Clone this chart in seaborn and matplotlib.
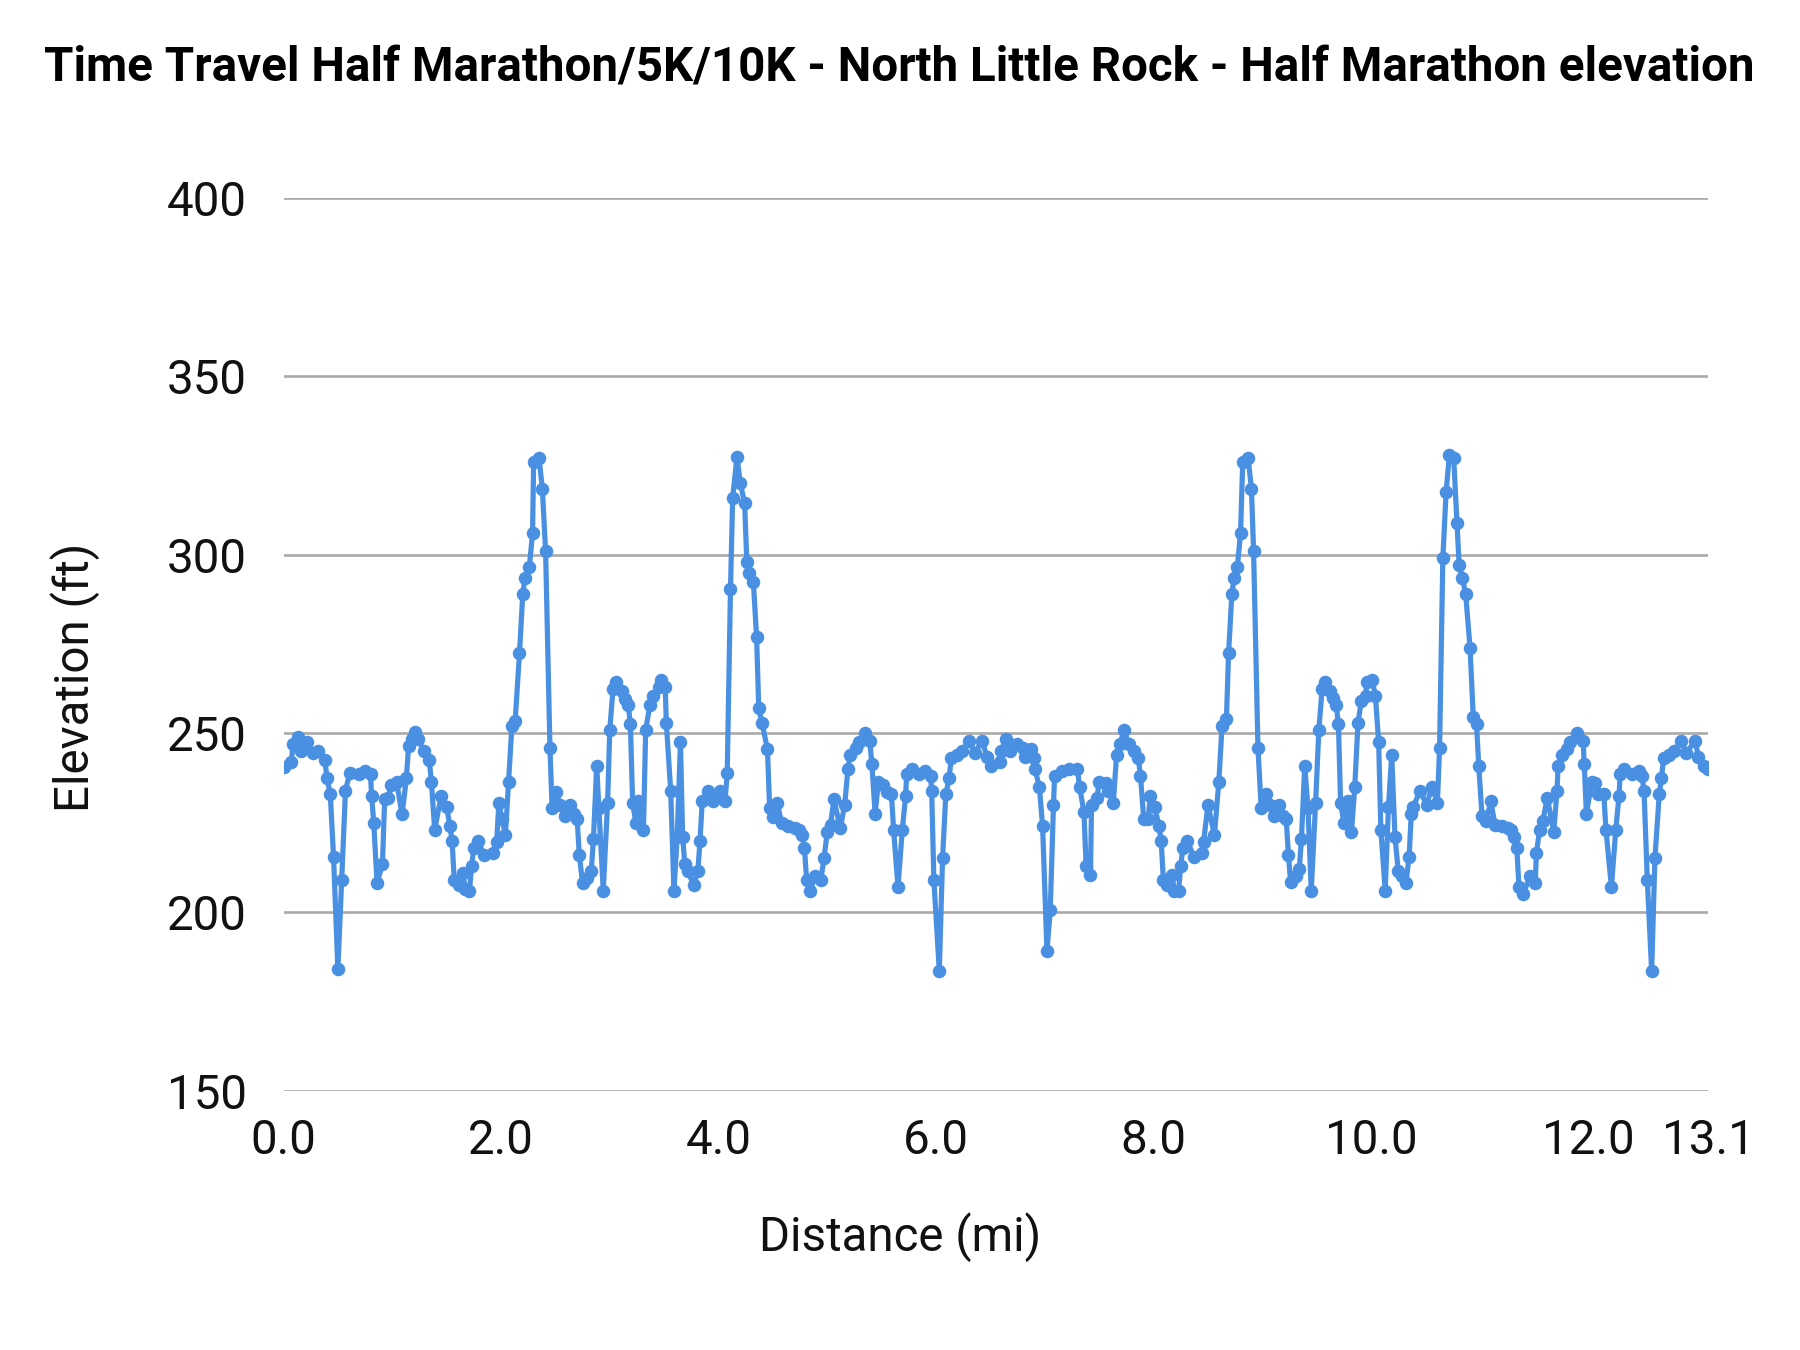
import matplotlib
matplotlib.use("Agg")
import matplotlib.pyplot as plt
import seaborn as sns
import pandas as pd
from matplotlib.ticker import FixedLocator, FixedFormatter

distance_mi = [
    0.00, 0.07, 0.09, 0.13, 0.16, 0.22, 0.27, 0.32, 0.38, 0.40, 0.43, 0.46, 0.50, 0.535, 0.57, 0.61,
    0.69, 0.75, 0.80, 0.81, 0.83, 0.86, 0.91, 0.93, 0.96, 0.99, 1.04, 1.09, 1.13, 1.15, 1.18, 1.21,
    1.24, 1.29, 1.34, 1.36, 1.39, 1.45, 1.50, 1.53, 1.55, 1.57, 1.61, 1.65, 1.67, 1.71, 1.73, 1.75,
    1.79, 1.84, 1.93, 1.96, 1.98, 2.01, 2.04, 2.07, 2.10, 2.13, 2.17, 2.20, 2.22, 2.26, 2.29, 2.30,
    2.35, 2.38, 2.41, 2.45, 2.47, 2.51, 2.54, 2.59, 2.63, 2.67, 2.70, 2.72, 2.75, 2.79, 2.83, 2.85,
    2.88, 2.90, 2.94, 2.98, 3.00, 3.03, 3.06, 3.11, 3.14, 3.17, 3.19, 3.21, 3.24, 3.26, 3.31, 3.33,
    3.37, 3.40, 3.45, 3.47, 3.51, 3.52, 3.56, 3.59, 3.62, 3.65, 3.67, 3.69, 3.72, 3.77, 3.81, 3.83,
    3.85, 3.90, 3.95, 4.01, 4.06, 4.08, 4.11, 4.13, 4.17, 4.20, 4.24, 4.26, 4.28, 4.32, 4.35, 4.37,
    4.40, 4.45, 4.47, 4.50, 4.54, 4.58, 4.64, 4.70, 4.74, 4.77, 4.79, 4.81, 4.84, 4.89, 4.94, 4.97,
    5.00, 5.03, 5.06, 5.12, 5.16, 5.19, 5.21, 5.26, 5.29, 5.35, 5.39, 5.41, 5.44, 5.47, 5.51, 5.55,
    5.59, 5.61, 5.65, 5.69, 5.72, 5.73, 5.78, 5.84, 5.90, 5.95, 5.96, 5.98, 6.03, 6.06, 6.09, 6.12,
    6.14, 6.19, 6.24, 6.30, 6.36, 6.42, 6.47, 6.51, 6.59, 6.60, 6.64, 6.68, 6.74, 6.80, 6.82, 6.87,
    6.90, 6.91, 6.95, 6.98, 7.02, 7.05, 7.08, 7.09, 7.16, 7.22, 7.30, 7.32, 7.36, 7.38, 7.42, 7.43,
    7.48, 7.50, 7.56, 7.58, 7.63, 7.66, 7.69, 7.73, 7.77, 7.82, 7.86, 7.88, 7.91, 7.95, 7.97, 8.01,
    8.05, 8.07, 8.09, 8.12, 8.17, 8.19, 8.23, 8.25, 8.27, 8.31, 8.37, 8.45, 8.46, 8.50, 8.56, 8.60,
    8.63, 8.67, 8.69, 8.72, 8.74, 8.77, 8.80, 8.82, 8.87, 8.90, 8.92, 8.96, 8.99, 9.03, 9.07, 9.11,
    9.15, 9.19, 9.22, 9.24, 9.26, 9.31, 9.34, 9.36, 9.39, 9.42, 9.45, 9.49, 9.52, 9.55, 9.58, 9.62,
    9.65, 9.68, 9.70, 9.72, 9.75, 9.79, 9.82, 9.85, 9.88, 9.91, 9.95, 9.96, 10.01, 10.04, 10.07, 10.09,
    10.13, 10.16, 10.19, 10.22, 10.25, 10.28, 10.32, 10.35, 10.37, 10.39, 10.45, 10.51, 10.56, 10.61, 10.63, 10.66,
    10.69, 10.72, 10.76, 10.79, 10.81, 10.84, 10.87, 10.91, 10.94, 10.97, 10.99, 11.02, 11.06, 11.10, 11.14, 11.20,
    11.26, 11.29, 11.31, 11.34, 11.36, 11.40, 11.46, 11.51, 11.52, 11.55, 11.58, 11.62, 11.68, 11.71, 11.72, 11.76,
    11.80, 11.83, 11.89, 11.95, 11.96, 11.98, 12.03, 12.06, 12.09, 12.14, 12.16, 12.21, 12.25, 12.28, 12.29, 12.33,
    12.40, 12.46, 12.49, 12.51, 12.54, 12.58, 12.61, 12.65, 12.67, 12.69, 12.74, 12.79, 12.85, 12.90, 12.98, 13.01,
    13.06, 13.10,
]

elevation_ft = [
    240.5, 242, 247, 249, 245, 247.5, 244.5, 245, 242.5, 237.5, 233, 215.5, 184, 209, 234, 239,
    238.5, 239.5, 238.5, 232.5, 225, 208, 213.5, 231.5, 232, 235.5, 236.5, 227.3, 237.5, 246.5, 248.5, 250.5,
    248.5, 245, 242.5, 236.5, 223, 232.5, 229.5, 224, 220, 209, 207.5, 211, 206.5, 206, 213, 218,
    220, 216, 216.5, 219.5, 230.5, 226, 221.5, 236.5, 252, 253.5, 272.5, 289, 293.5, 296.5, 306, 326,
    327, 318.5, 301, 246, 229, 233.5, 230, 227, 230, 227.5, 226, 216, 208, 209.5, 211.5, 220.5,
    241, 229, 206, 230.5, 251, 262.5, 264.5, 262, 259.5, 258, 252.5, 230.5, 225, 231, 223, 251,
    258, 260.5, 263, 265, 263, 253, 234, 206, 221, 247.5, 221, 213.5, 211.5, 207.5, 211.5, 220,
    231, 234, 231, 234, 231, 239, 290.5, 316, 327.5, 320, 314.5, 298, 295, 292.5, 277, 257,
    253, 245.5, 229, 226.5, 230.5, 225, 224, 223.5, 223, 221.5, 218, 209, 206, 210, 209, 215,
    222.5, 224.5, 231.5, 223.5, 230, 240, 244, 246, 247.5, 250, 248, 241.5, 227.5, 236.5, 235.5, 233.5,
    233, 223, 207, 223, 232.5, 238.5, 240, 238.5, 239.5, 238, 234, 209, 183.5, 215, 233, 237.5,
    243, 244, 245, 248, 244.5, 248, 243.5, 241, 242, 245, 248.5, 245, 247, 246, 243.5, 245.5,
    243, 240, 235, 224, 189, 200.5, 230, 238, 239.5, 240, 240, 235, 228, 213, 210.5, 230,
    232, 236.5, 236, 234, 230.5, 244, 247, 251, 247, 245, 243, 238, 226, 226, 232.5, 229.5,
    224, 220, 209, 207.5, 210.5, 206, 206, 213, 218, 220, 215.5, 216.5, 219.5, 230, 221.5, 236.5,
    252, 254, 272.5, 289, 293.5, 296.5, 306, 326, 327, 318.5, 301, 246, 229, 233, 230, 227,
    230, 227, 226, 216, 208.5, 210, 212, 220.5, 241, 229, 206, 230.5, 251, 262.5, 264.5, 262,
    260, 258, 252.5, 230.5, 225, 231, 222.5, 235, 253, 259, 260.5, 264.5, 265, 260.5, 247.5, 223,
    206, 229.5, 244, 221, 211.5, 210, 208, 215.5, 227.5, 229.5, 234, 230, 235, 230.5, 246, 299,
    317.5, 328, 327, 309, 297, 293.5, 289, 274, 254.5, 252.5, 241, 227, 225.5, 231, 224.5, 224,
    223.5, 223, 221, 218, 207, 205, 210, 208, 216.5, 223, 225.5, 232, 222.5, 234, 241, 244,
    245.5, 247.5, 250, 248, 241.5, 227.5, 236.5, 236, 233, 233, 223, 207, 223, 232.5, 238.5, 240,
    238.5, 239.5, 238, 234, 209, 183.5, 215, 233, 237.5, 243, 244, 245, 248, 244.5, 248, 243.5,
    241, 240,
]

x_ticks = [0.0, 2.0, 4.0, 6.0, 8.0, 10.0, 12.0, 13.1]
x_tick_labels = ["0.0", "2.0", "4.0", "6.0", "8.0", "10.0", "12.0", "13.1"]
y_ticks = [150, 200, 250, 300, 350, 400]

title = "Time Travel Half Marathon/5K/10K - North Little Rock - Half Marathon elevation"

sns.set_theme(style="white")
plt.rcParams["font.family"] = ["Roboto", "DejaVu Sans"]

df = pd.DataFrame({"Distance (mi)": distance_mi, "Elevation (ft)": elevation_ft})

fig = plt.figure(figsize=(12, 9), dpi=150)
ax_left, ax_bottom, ax_right, ax_top = 0.1575, 0.1921, 0.949, 0.8537
ax = fig.add_axes([ax_left, ax_bottom, ax_right - ax_left, ax_top - ax_bottom])

line_color = "#4a90e2"
sns.lineplot(data=df, x="Distance (mi)", y="Elevation (ft)", ax=ax, sort=False,
             estimator=None, color=line_color, linewidth=2.5, marker="o",
             markersize=6.5, markeredgewidth=0, zorder=3)

ax.set_xlim(0, 13.1)
ax.set_ylim(150, 400)
ax.yaxis.set_major_locator(FixedLocator(y_ticks))
ax.xaxis.set_major_locator(FixedLocator(x_ticks))
ax.xaxis.set_major_formatter(FixedFormatter(x_tick_labels))

ax.grid(axis="y", color="#ababab", linewidth=1.3)
ax.grid(axis="x", visible=False)
for s in ax.spines.values():
    s.set_visible(False)
ax.tick_params(axis="both", length=0, labelsize=22.8, colors="#111111")
ax.tick_params(axis="y", pad=17.5)
ax.tick_params(axis="x", pad=13)
ax.set_xlabel("Distance (mi)", fontsize=22.8, color="#111111")
ax.set_ylabel("Elevation (ft)", fontsize=22.8, color="#111111")

w = ax_right - ax_left
h = ax_top - ax_bottom
ax.xaxis.label.set_va("center")
ax.xaxis.set_label_coords((0.5 - ax_left) / w, ((1 - 1078 / 1176) - ax_bottom) / h)
ax.yaxis.label.set_va("center")
ax.yaxis.set_label_coords((65 / 1568 - ax_left) / w, ((1 - 590 / 1176) - ax_bottom) / h)

fig.text(0.4995, 1 - 59.5 / 1176, title, ha="center", va="center", fontsize=22.8,
         fontweight="bold", color="#000000")

fig.savefig("out.png", dpi=150, facecolor="white")
